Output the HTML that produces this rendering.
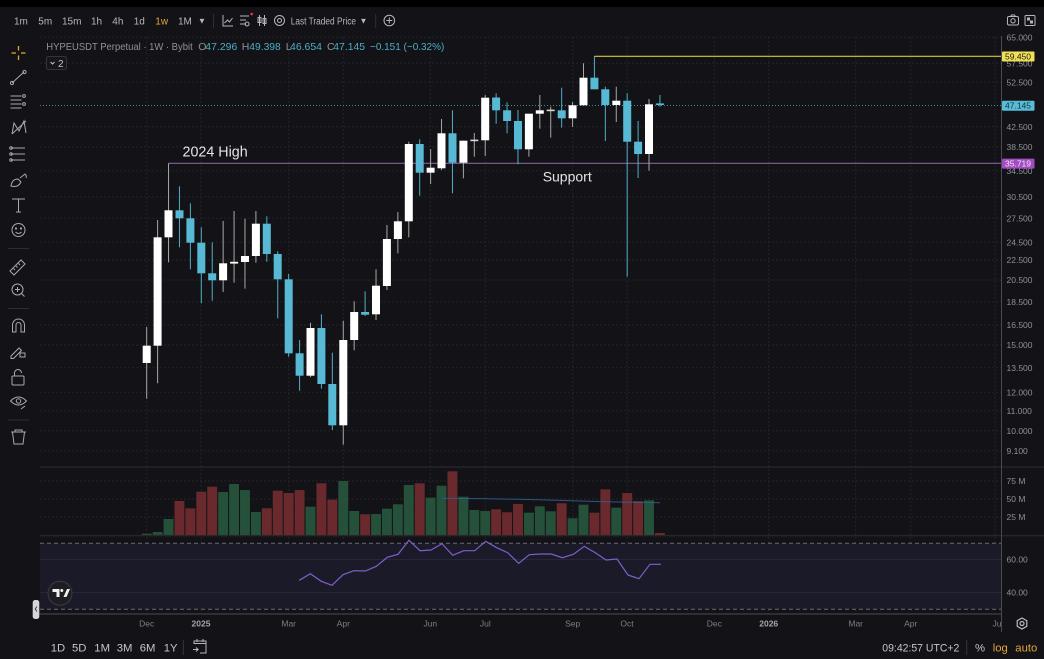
<!DOCTYPE html>
<html><head><meta charset="utf-8"><style>
html,body{margin:0;padding:0;background:#131317;}
svg{display:block;font-family:"Liberation Sans",sans-serif;}
</style></head><body>
<svg width="1044" height="659" viewBox="0 0 1044 659" xmlns="http://www.w3.org/2000/svg">
<rect x="0" y="0" width="1044" height="659" fill="#131317"/>
<rect x="0" y="0" width="1044" height="7" fill="#000"/>

<!-- grid vertical -->
<g stroke="#23232b" stroke-width="1" stroke-dasharray="2,2">
<line x1="146.7" y1="37" x2="146.7" y2="614"/><line x1="201" y1="37" x2="201" y2="614"/>
<line x1="288.7" y1="37" x2="288.7" y2="614"/><line x1="343.3" y1="37" x2="343.3" y2="614"/>
<line x1="430.3" y1="37" x2="430.3" y2="614"/><line x1="485.3" y1="37" x2="485.3" y2="614"/>
<line x1="572.7" y1="37" x2="572.7" y2="614"/><line x1="627" y1="37" x2="627" y2="614"/>
<line x1="714.3" y1="37" x2="714.3" y2="614"/><line x1="768.7" y1="37" x2="768.7" y2="614"/>
<line x1="855.7" y1="37" x2="855.7" y2="614"/><line x1="910.7" y1="37" x2="910.7" y2="614"/>
<line x1="995" y1="37" x2="995" y2="614"/>
</g>
<!-- grid horizontal main -->
<g stroke="#23232b" stroke-width="1" stroke-dasharray="2,2">
<line x1="40" y1="37.3" x2="1001" y2="37.3"/><line x1="40" y1="63.3" x2="1001" y2="63.3"/>
<line x1="40" y1="82.3" x2="1001" y2="82.3"/><line x1="40" y1="126.7" x2="1001" y2="126.7"/>
<line x1="40" y1="147" x2="1001" y2="147"/><line x1="40" y1="170.7" x2="1001" y2="170.7"/>
<line x1="40" y1="196.7" x2="1001" y2="196.7"/><line x1="40" y1="218.3" x2="1001" y2="218.3"/>
<line x1="40" y1="242.3" x2="1001" y2="242.3"/><line x1="40" y1="260" x2="1001" y2="260"/>
<line x1="40" y1="280" x2="1001" y2="280"/><line x1="40" y1="301.7" x2="1001" y2="301.7"/>
<line x1="40" y1="325" x2="1001" y2="325"/><line x1="40" y1="345" x2="1001" y2="345"/>
<line x1="40" y1="367.7" x2="1001" y2="367.7"/><line x1="40" y1="392.3" x2="1001" y2="392.3"/>
<line x1="40" y1="410.7" x2="1001" y2="410.7"/><line x1="40" y1="430.7" x2="1001" y2="430.7"/>
<line x1="40" y1="450.7" x2="1001" y2="450.7"/>
<line x1="40" y1="481" x2="1001" y2="481"/><line x1="40" y1="499" x2="1001" y2="499"/>
<line x1="40" y1="517" x2="1001" y2="517"/>
</g>

<!-- RSI panel -->
<rect x="40" y="543.3" width="961" height="66" fill="#1b1a29"/>
<line x1="40" y1="559.5" x2="1001" y2="559.5" stroke="#27263a"/>
<line x1="40" y1="592.5" x2="1001" y2="592.5" stroke="#27263a"/>
<line x1="40" y1="543.3" x2="1001" y2="543.3" stroke="#6a6a76" stroke-dasharray="4,3"/>
<line x1="40" y1="609.3" x2="1001" y2="609.3" stroke="#6a6a76" stroke-dasharray="4,3"/>
<polyline fill="none" stroke="#7e5fc9" stroke-width="1.2" points="299.3,580.3 310.3,573.7 321.3,581.3 332,585.3 343,574.7 354,570.7 365.3,571 376.3,566.3 387.3,557.3 398,554.3 409,540.3 420,550.7 431,550 442,543.7 452.7,555.3 463.7,550.7 474.7,550.7 485.7,541.3 496.7,547.7 507.7,552.7 518.7,563.3 529.3,554.7 540.3,554 551.3,554 562.3,557.7 573.3,554.3 584.3,546.3 595.3,552.7 606,560 617,559 628,575 639,578.7 650,564.3 661,564.3"/>

<!-- panel separators -->
<line x1="40" y1="467" x2="1044" y2="467" stroke="#2c2c34"/>
<line x1="40" y1="535.8" x2="1044" y2="535.8" stroke="#2c2c34"/>
<line x1="34" y1="614" x2="1001" y2="614" stroke="#4a4a52"/>
<line x1="1001.5" y1="36" x2="1001.5" y2="632" stroke="#4a4a52"/>

<!-- volume bars -->
<g>
<rect x="141.75" y="533.7" width="9.9" height="1.3" fill="#25503a"/>
<rect x="152.67" y="532" width="9.9" height="3" fill="#25503a"/>
<rect x="163.59" y="519" width="9.9" height="16" fill="#25503a"/>
<rect x="174.51" y="501" width="9.9" height="34" fill="#6a2a2d"/>
<rect x="185.43" y="508.3" width="9.9" height="26.7" fill="#6a2a2d"/>
<rect x="196.35" y="491.7" width="9.9" height="43.3" fill="#6a2a2d"/>
<rect x="207.27" y="486.7" width="9.9" height="48.3" fill="#6a2a2d"/>
<rect x="218.19" y="492" width="9.9" height="43" fill="#25503a"/>
<rect x="229.11" y="484" width="9.9" height="51" fill="#25503a"/>
<rect x="240.03" y="490" width="9.9" height="45" fill="#25503a"/>
<rect x="250.95" y="512" width="9.9" height="23" fill="#25503a"/>
<rect x="261.87" y="508.3" width="9.9" height="26.7" fill="#6a2a2d"/>
<rect x="272.79" y="490.7" width="9.9" height="44.3" fill="#6a2a2d"/>
<rect x="283.71" y="493" width="9.9" height="42" fill="#6a2a2d"/>
<rect x="294.63" y="490" width="9.9" height="45" fill="#6a2a2d"/>
<rect x="305.55" y="506.7" width="9.9" height="28.3" fill="#25503a"/>
<rect x="316.47" y="483.3" width="9.9" height="51.7" fill="#6a2a2d"/>
<rect x="327.39" y="499.7" width="9.9" height="35.3" fill="#6a2a2d"/>
<rect x="338.31" y="481" width="9.9" height="54" fill="#25503a"/>
<rect x="349.23" y="511" width="9.9" height="24" fill="#25503a"/>
<rect x="360.15" y="514.3" width="9.9" height="20.7" fill="#6a2a2d"/>
<rect x="371.07" y="514" width="9.9" height="21" fill="#25503a"/>
<rect x="381.99" y="508.7" width="9.9" height="26.3" fill="#25503a"/>
<rect x="392.91" y="504.3" width="9.9" height="30.7" fill="#25503a"/>
<rect x="403.83" y="485" width="9.9" height="50" fill="#25503a"/>
<rect x="414.75" y="483.3" width="9.9" height="51.7" fill="#6a2a2d"/>
<rect x="425.67" y="497.7" width="9.9" height="37.3" fill="#25503a"/>
<rect x="436.59" y="485.7" width="9.9" height="49.3" fill="#25503a"/>
<rect x="447.51" y="471.3" width="9.9" height="63.7" fill="#6a2a2d"/>
<rect x="458.43" y="496.7" width="9.9" height="38.3" fill="#25503a"/>
<rect x="469.35" y="510" width="9.9" height="25" fill="#25503a"/>
<rect x="480.27" y="511" width="9.9" height="24" fill="#25503a"/>
<rect x="491.19" y="509.3" width="9.9" height="25.7" fill="#6a2a2d"/>
<rect x="502.11" y="512.3" width="9.9" height="22.7" fill="#6a2a2d"/>
<rect x="513.03" y="504" width="9.9" height="31" fill="#6a2a2d"/>
<rect x="523.95" y="512.7" width="9.9" height="22.3" fill="#25503a"/>
<rect x="534.87" y="506.3" width="9.9" height="28.7" fill="#25503a"/>
<rect x="545.79" y="511.3" width="9.9" height="23.7" fill="#25503a"/>
<rect x="556.71" y="503.3" width="9.9" height="31.7" fill="#6a2a2d"/>
<rect x="567.63" y="518.3" width="9.9" height="16.7" fill="#25503a"/>
<rect x="578.55" y="504.7" width="9.9" height="30.3" fill="#25503a"/>
<rect x="589.47" y="512.7" width="9.9" height="22.3" fill="#6a2a2d"/>
<rect x="600.39" y="489.3" width="9.9" height="45.7" fill="#6a2a2d"/>
<rect x="611.31" y="507.7" width="9.9" height="27.3" fill="#25503a"/>
<rect x="622.23" y="493" width="9.9" height="42" fill="#6a2a2d"/>
<rect x="633.15" y="501" width="9.9" height="34" fill="#6a2a2d"/>
<rect x="644.07" y="500.3" width="9.9" height="34.7" fill="#25503a"/>
<rect x="654.99" y="533" width="9.9" height="2" fill="#6a2a2d"/>
</g>
<polyline fill="none" stroke="#2d5f8f" stroke-width="1" opacity="0.9" points="441.5,498.3 480,498.6 520,499.3 560,500.4 600,501.6 630,502.2 660,502.7"/>

<!-- horizontal levels -->
<line x1="40" y1="105.5" x2="1001" y2="105.5" stroke="#3d8c9c" stroke-width="1" stroke-dasharray="1,2"/>
<line x1="168.5" y1="163.3" x2="1001" y2="163.3" stroke="#87619b" stroke-width="1.2"/>
<line x1="594.4" y1="56.3" x2="1001" y2="56.3" stroke="#d6c63c" stroke-width="1.2"/>

<!-- candles wicks -->
<g stroke-width="1">
<line x1="146.7" y1="327" x2="146.7" y2="398.7" stroke="#a8a8a8"/>
<line x1="157.62" y1="220" x2="157.62" y2="383.3" stroke="#a8a8a8"/>
<line x1="168.54" y1="163.3" x2="168.54" y2="262.3" stroke="#a8a8a8"/>
<line x1="179.46" y1="186.3" x2="179.46" y2="247.3" stroke="#4fb0c8"/>
<line x1="190.38" y1="203.3" x2="190.38" y2="269.3" stroke="#4fb0c8"/>
<line x1="201.3" y1="227.3" x2="201.3" y2="303.3" stroke="#4fb0c8"/>
<line x1="212.22" y1="242.3" x2="212.22" y2="300.7" stroke="#4fb0c8"/>
<line x1="223.14" y1="221" x2="223.14" y2="292" stroke="#a8a8a8"/>
<line x1="234.06" y1="211" x2="234.06" y2="282.7" stroke="#a8a8a8"/>
<line x1="244.98" y1="218.7" x2="244.98" y2="288.7" stroke="#a8a8a8"/>
<line x1="255.9" y1="211" x2="255.9" y2="262.7" stroke="#a8a8a8"/>
<line x1="266.82" y1="216.3" x2="266.82" y2="261.7" stroke="#4fb0c8"/>
<line x1="277.74" y1="251.3" x2="277.74" y2="318.3" stroke="#4fb0c8"/>
<line x1="288.66" y1="274" x2="288.66" y2="356.7" stroke="#4fb0c8"/>
<line x1="299.58" y1="340" x2="299.58" y2="390.7" stroke="#4fb0c8"/>
<line x1="310.5" y1="322.7" x2="310.5" y2="377.3" stroke="#a8a8a8"/>
<line x1="321.42" y1="314.3" x2="321.42" y2="388.7" stroke="#4fb0c8"/>
<line x1="332.34" y1="352.7" x2="332.34" y2="430" stroke="#4fb0c8"/>
<line x1="343.26" y1="320.7" x2="343.26" y2="444.7" stroke="#a8a8a8"/>
<line x1="354.18" y1="301.3" x2="354.18" y2="350.3" stroke="#a8a8a8"/>
<line x1="365.1" y1="291.3" x2="365.1" y2="316" stroke="#4fb0c8"/>
<line x1="376.02" y1="269.3" x2="376.02" y2="320" stroke="#a8a8a8"/>
<line x1="386.94" y1="225" x2="386.94" y2="290" stroke="#a8a8a8"/>
<line x1="397.86" y1="212" x2="397.86" y2="253.3" stroke="#a8a8a8"/>
<line x1="408.78" y1="141.7" x2="408.78" y2="237.3" stroke="#a8a8a8"/>
<line x1="419.7" y1="139.3" x2="419.7" y2="195.7" stroke="#4fb0c8"/>
<line x1="430.62" y1="149" x2="430.62" y2="184" stroke="#a8a8a8"/>
<line x1="441.54" y1="119" x2="441.54" y2="170" stroke="#a8a8a8"/>
<line x1="452.46" y1="110.3" x2="452.46" y2="193.3" stroke="#4fb0c8"/>
<line x1="463.38" y1="140.7" x2="463.38" y2="178.3" stroke="#a8a8a8"/>
<line x1="474.3" y1="133" x2="474.3" y2="156.7" stroke="#a8a8a8"/>
<line x1="485.22" y1="95" x2="485.22" y2="156" stroke="#a8a8a8"/>
<line x1="496.14" y1="93.3" x2="496.14" y2="123.7" stroke="#4fb0c8"/>
<line x1="507.06" y1="102.3" x2="507.06" y2="133.3" stroke="#4fb0c8"/>
<line x1="517.98" y1="110" x2="517.98" y2="164.3" stroke="#4fb0c8"/>
<line x1="528.9" y1="113.7" x2="528.9" y2="156.7" stroke="#a8a8a8"/>
<line x1="539.82" y1="95" x2="539.82" y2="128.7" stroke="#a8a8a8"/>
<line x1="550.74" y1="106.7" x2="550.74" y2="137.7" stroke="#a8a8a8"/>
<line x1="561.66" y1="87.7" x2="561.66" y2="127.7" stroke="#4fb0c8"/>
<line x1="572.58" y1="102" x2="572.58" y2="127" stroke="#a8a8a8"/>
<line x1="583.5" y1="63.3" x2="583.5" y2="105.3" stroke="#a8a8a8"/>
<line x1="594.42" y1="56" x2="594.42" y2="89.3" stroke="#4fb0c8"/>
<line x1="605.34" y1="86.7" x2="605.34" y2="141" stroke="#4fb0c8"/>
<line x1="616.26" y1="86.7" x2="616.26" y2="122" stroke="#a8a8a8"/>
<line x1="627.18" y1="93.3" x2="627.18" y2="276.7" stroke="#4fb0c8"/>
<line x1="638.1" y1="121" x2="638.1" y2="178" stroke="#4fb0c8"/>
<line x1="649.02" y1="99" x2="649.02" y2="170.7" stroke="#a8a8a8"/>
<line x1="659.94" y1="95" x2="659.94" y2="106.7" stroke="#4fb0c8"/>
</g>
<!-- candle bodies -->
<g>
<rect x="142.7" y="345.7" width="8" height="17.3" fill="#ffffff"/>
<rect x="153.6" y="237.3" width="8" height="108.4" fill="#ffffff"/>
<rect x="164.5" y="210.3" width="8" height="27" fill="#ffffff"/>
<rect x="175.5" y="210.3" width="8" height="8" fill="#57b9d4"/>
<rect x="186.4" y="218.3" width="8" height="24.4" fill="#57b9d4"/>
<rect x="197.3" y="242.7" width="8" height="30.6" fill="#57b9d4"/>
<rect x="208.2" y="273.3" width="8" height="7" fill="#57b9d4"/>
<rect x="219.1" y="263.3" width="8" height="17" fill="#ffffff"/>
<rect x="230.1" y="261.8" width="8" height="1.8" fill="#ffffff"/>
<rect x="241" y="256" width="8" height="6" fill="#ffffff"/>
<rect x="251.9" y="223.7" width="8" height="32.3" fill="#ffffff"/>
<rect x="262.8" y="223.7" width="8" height="30.3" fill="#57b9d4"/>
<rect x="273.7" y="254" width="8" height="25.3" fill="#57b9d4"/>
<rect x="284.7" y="279.3" width="8" height="74" fill="#57b9d4"/>
<rect x="295.6" y="353.3" width="8" height="22.4" fill="#57b9d4"/>
<rect x="306.5" y="328" width="8" height="47.7" fill="#ffffff"/>
<rect x="317.4" y="328" width="8" height="56" fill="#57b9d4"/>
<rect x="328.3" y="384" width="8" height="41.3" fill="#57b9d4"/>
<rect x="339.3" y="340" width="8" height="85.3" fill="#ffffff"/>
<rect x="350.2" y="312" width="8" height="28" fill="#ffffff"/>
<rect x="361.1" y="312" width="8" height="2.7" fill="#57b9d4"/>
<rect x="372" y="285.7" width="8" height="28.6" fill="#ffffff"/>
<rect x="382.9" y="239" width="8" height="47" fill="#ffffff"/>
<rect x="393.9" y="221.3" width="8" height="17.7" fill="#ffffff"/>
<rect x="404.8" y="144" width="8" height="77.3" fill="#ffffff"/>
<rect x="415.7" y="144" width="8" height="28.7" fill="#57b9d4"/>
<rect x="426.6" y="167.7" width="8" height="5" fill="#ffffff"/>
<rect x="437.5" y="133.3" width="8" height="35" fill="#ffffff"/>
<rect x="448.5" y="133.3" width="8" height="29.4" fill="#57b9d4"/>
<rect x="459.4" y="140.7" width="8" height="22" fill="#ffffff"/>
<rect x="470.3" y="139.6" width="8" height="1.6" fill="#d8d8d8"/>
<rect x="481.2" y="97.7" width="8" height="42.6" fill="#ffffff"/>
<rect x="492.1" y="97.5" width="8" height="12.8" fill="#57b9d4"/>
<rect x="503.1" y="110.3" width="8" height="10.7" fill="#57b9d4"/>
<rect x="514" y="121" width="8" height="28.3" fill="#57b9d4"/>
<rect x="524.9" y="113.7" width="8" height="35.6" fill="#ffffff"/>
<rect x="535.8" y="110.3" width="8" height="3.4" fill="#ffffff"/>
<rect x="546.7" y="109.6" width="8" height="1.6" fill="#d8d8d8"/>
<rect x="557.7" y="110.3" width="8" height="8" fill="#57b9d4"/>
<rect x="568.6" y="105.3" width="8" height="13" fill="#ffffff"/>
<rect x="579.5" y="77.7" width="8" height="27.6" fill="#ffffff"/>
<rect x="590.4" y="77.7" width="8" height="11.6" fill="#57b9d4"/>
<rect x="601.3" y="89.3" width="8" height="15.7" fill="#57b9d4"/>
<rect x="612.3" y="100.7" width="8" height="4.3" fill="#ffffff"/>
<rect x="623.2" y="100.7" width="8" height="41" fill="#57b9d4"/>
<rect x="634.1" y="141.7" width="8" height="12.3" fill="#57b9d4"/>
<rect x="645" y="104.3" width="8" height="49.7" fill="#ffffff"/>
<rect x="655.9" y="103.4" width="8" height="1.6" fill="#57b9d4"/>
</g>

<!-- annotations -->
<text x="182.5" y="156.5" font-size="14.3" fill="#e4e4e6">2024 High</text>
<text x="542.7" y="181.5" font-size="14" fill="#e4e4e6">Support</text>

<!-- price axis labels -->
<g font-size="8.5" fill="#8d9099">
<text x="1006.5" y="40.5">65.000</text>
<text x="1006.5" y="66.5">57.500</text>
<text x="1006.5" y="85.5">52.500</text>
<text x="1006.5" y="129.9">42.500</text>
<text x="1006.5" y="150.2">38.500</text>
<text x="1006.5" y="173.9">34.500</text>
<text x="1006.5" y="199.9">30.500</text>
<text x="1006.5" y="221.5">27.500</text>
<text x="1006.5" y="245.5">24.500</text>
<text x="1006.5" y="263.2">22.500</text>
<text x="1006.5" y="283.2">20.500</text>
<text x="1006.5" y="304.9">18.500</text>
<text x="1006.5" y="328.2">16.500</text>
<text x="1006.5" y="348.2">15.000</text>
<text x="1006.5" y="370.9">13.500</text>
<text x="1006.5" y="395.5">12.000</text>
<text x="1006.5" y="413.9">11.000</text>
<text x="1006.5" y="433.9">10.000</text>
<text x="1006.5" y="453.9">9.100</text>
<text x="1006.5" y="484.2">75 M</text>
<text x="1006.5" y="502.2">50 M</text>
<text x="1006.5" y="520.2">25 M</text>
<text x="1006.5" y="562.7">60.00</text>
<text x="1006.5" y="595.7">40.00</text>
</g>
<!-- price labels -->
<rect x="1002" y="51.5" width="32.5" height="10" rx="1" fill="#efe057"/>
<text x="1005" y="59.5" font-size="8.5" fill="#1b1b10">59.450</text>
<rect x="1002" y="100.7" width="32.5" height="10" rx="1" fill="#58bcd6"/>
<text x="1005" y="108.7" font-size="8.5" fill="#0f3440">47.145</text>
<rect x="1002" y="158.6" width="32.5" height="10" rx="1" fill="#a34bc0"/>
<text x="1005" y="166.6" font-size="8.5" fill="#f2e6f6">35.719</text>

<!-- time axis -->
<g font-size="8.5" fill="#7c7f88" text-anchor="middle">
<text x="146.7" y="626.5">Dec</text>
<text x="201" y="626.5" font-weight="bold" fill="#a4a7ae">2025</text>
<text x="288.7" y="626.5">Mar</text>
<text x="343.3" y="626.5">Apr</text>
<text x="430.3" y="626.5">Jun</text>
<text x="485.3" y="626.5">Jul</text>
<text x="572.7" y="626.5">Sep</text>
<text x="627" y="626.5">Oct</text>
<text x="714.3" y="626.5">Dec</text>
<text x="768.7" y="626.5" font-weight="bold" fill="#a4a7ae">2026</text>
<text x="855.7" y="626.5">Mar</text>
<text x="910.7" y="626.5">Apr</text>
<text x="997" y="626.5">Ju</text>
</g>
<!-- gear -->
<g transform="translate(1022,623.5)" fill="none" stroke="#b8bbc2" stroke-width="1.2">
<polygon points="0,-5.5 4.8,-2.75 4.8,2.75 0,5.5 -4.8,2.75 -4.8,-2.75"/>
<circle cx="0" cy="0" r="2"/>
</g>

<!-- TV logo -->
<circle cx="60" cy="593.3" r="12" fill="#1d1d22" stroke="#3b3b44" stroke-width="1"/>
<path d="M52.5,589 h7 v8 h-3 v-5 h-4 z" fill="#f0f0f0"/>
<circle cx="61.8" cy="590.5" r="1.5" fill="#f0f0f0"/>
<path d="M63.5,597 l3.5,-8 h3 l-3.5,8 z" fill="#f0f0f0"/>
<!-- handle -->
<rect x="32.7" y="600" width="6.6" height="19" rx="2.5" fill="#d6d6da"/>
<path d="M37,606.5 l-1.8,2.5 l1.8,2.5" fill="none" stroke="#333" stroke-width="0.9"/>

<!-- legend -->
<text x="46.3" y="50" font-size="10.5" fill="#8f929b" textLength="146.4" lengthAdjust="spacingAndGlyphs">HYPEUSDT Perpetual · 1W · Bybit</text>
<g font-size="10.5">
<text x="198.3" y="50" fill="#8f929b">O</text>
<text x="205.3" y="50" fill="#4aaec4" textLength="32" lengthAdjust="spacingAndGlyphs">47.296</text>
<text x="241.7" y="50" fill="#8f929b">H</text>
<text x="249.3" y="50" fill="#4aaec4" textLength="31.4" lengthAdjust="spacingAndGlyphs">49.398</text>
<text x="285.7" y="50" fill="#8f929b">L</text>
<text x="290" y="50" fill="#4aaec4" textLength="32" lengthAdjust="spacingAndGlyphs">46.654</text>
<text x="327" y="50" fill="#8f929b">C</text>
<text x="333.3" y="50" fill="#4aaec4" textLength="31.7" lengthAdjust="spacingAndGlyphs">47.145</text>
<text x="370" y="50" fill="#4aaec4" textLength="74.3" lengthAdjust="spacingAndGlyphs">−0.151 (−0.32%)</text>
</g>
<rect x="46.5" y="56.5" width="20" height="13" rx="2" fill="#16161b" stroke="#34343c"/>
<path d="M50.5,62 l2,2 l2,-2" fill="none" stroke="#c0c2c8" stroke-width="1"/>
<text x="58" y="67" font-size="10" fill="#c0c2c8">2</text>

<!-- top toolbar -->
<g font-size="10" fill="#b4b7bf">
<text x="14" y="24.5">1m</text>
<text x="38.3" y="24.5">5m</text>
<text x="62" y="24.5">15m</text>
<text x="91" y="24.5">1h</text>
<text x="112.3" y="24.5">4h</text>
<text x="133.7" y="24.5">1d</text>
<text x="155.3" y="24.5" fill="#e2a63a">1w</text>
<text x="178" y="24.5">1M</text>
<text x="198" y="23.5" font-size="8">▼</text>
<text x="290.7" y="24.5" textLength="65.3" lengthAdjust="spacingAndGlyphs">Last Traded Price</text>
<text x="359.5" y="23.5" font-size="8">▼</text>
</g>
<line x1="213.5" y1="14" x2="213.5" y2="28" stroke="#2e2e36"/>
<line x1="375.7" y1="14" x2="375.7" y2="28" stroke="#2e2e36"/>
<g fill="none" stroke="#b4b7bf" stroke-width="1">
<path d="M223,15 v11 h10 M224.5,23 l3,-3 l2,2 l3,-4"/>
<path d="M240,16 h9 M240,20 h6 M240,24 h6 M247,22 a2,2 0 1 0 0.1,0"/>
<path d="M259.5,15 v11 M264.5,15 v11"/><rect x="258" y="17.5" width="3" height="5"/><rect x="263" y="18.5" width="3" height="5"/>
<circle cx="279.5" cy="20.5" r="5"/><circle cx="279.5" cy="20.5" r="2"/>
<circle cx="389.3" cy="20.5" r="5.3"/><path d="M386.3,20.5 h6 M389.3,17.5 v6"/>
</g>
<circle cx="251.7" cy="14" r="1.3" fill="#f23645"/>
<!-- top right icons -->
<g fill="none" stroke="#b4b7bf" stroke-width="1">
<rect x="1007.5" y="16.5" width="11" height="8.5" rx="1.5"/><circle cx="1013" cy="20.8" r="2.2"/><path d="M1010.5,16.5 l1,-1.5 h3 l1,1.5"/>
<rect x="1025" y="15.5" width="10" height="10" rx="1"/>
</g>
<rect x="1027" y="17.5" width="3" height="3" fill="#b4b7bf"/><rect x="1030" y="20.5" width="3" height="3" fill="#b4b7bf"/>

<!-- left toolbar -->
<g fill="none" stroke="#a6a9b0" stroke-width="1">
<path d="M18.5,46 v4.5 M18.5,55.5 v4.5 M11.5,53 h4.5 M21,53 h4.5" stroke="#e0a43a" stroke-width="1.3"/>
<path d="M12,83 l12,-11"/><circle cx="12" cy="83" r="1.6"/><circle cx="24.5" cy="72" r="1.6"/>
<path d="M10.5,96 h11 M10.5,100 h11 M10.5,104 h11 M10.5,108 h11"/><circle cx="24" cy="96" r="1.4"/><circle cx="24" cy="104" r="1.4"/>
<path d="M12,134 l2,-11 l5,8 l5,-10 l2,12 M12,134 l14,-13"/>
<path d="M11,148 h14 M11,154 h14 M11,160 h14"/><circle cx="11" cy="148" r="1.3"/><circle cx="11" cy="154" r="1.3"/><circle cx="11" cy="160" r="1.3"/>
<path d="M11,186 q1,-7 7,-7 l3,3 q-3,6 -10,4 z M20,178 l5,-4 q2,2 1,4"/>
<path d="M12,199 h13 M18.5,199 v13 M16,212 h5"/>
<circle cx="18.5" cy="230" r="6.5"/><circle cx="16" cy="228.5" r="0.6"/><circle cx="21" cy="228.5" r="0.6"/><path d="M15.5,232 q3,3 6,0"/>
<path d="M10,271 l11,-11 l4,4 l-11,11 z M13.5,268.5 l1.5,1.5 M16,266 l1.5,1.5 M18.5,263.5 l1.5,1.5"/>
<circle cx="17.5" cy="289.5" r="5.5"/><path d="M15,289.5 h5 M17.5,287 v5 M21.5,293.5 l3,3"/>
<path d="M12.5,332 v-7 a6,6 0 0 1 12,0 v7 h-3.5 v-7 a2.5,2.5 0 0 0 -5,0 v7 z"/>
<path d="M11,356 l8,-8 l2.5,2.5 l-8,8 h-2.5 z"/><rect x="20" y="353" width="5" height="4"/>
<rect x="12" y="376" width="12" height="9" rx="1"/><path d="M14.5,376 v-3 a3.5,3.5 0 0 1 7,0"/>
<path d="M10.5,401 q8,-8 16,0 q-8,8 -16,0 z"/><circle cx="18.5" cy="401" r="2.2"/><path d="M21,409 l4,-3"/>
<path d="M11,432 h15 M15,432 v-2 h7 v2 M12.5,432 l1.5,12 h9 l1.5,-12"/>
</g>
<g stroke="#2c2c34"><line x1="8" y1="248.5" x2="29" y2="248.5"/><line x1="8" y1="308.5" x2="29" y2="308.5"/><line x1="8" y1="420" x2="29" y2="420"/></g>

<!-- bottom bar -->
<g font-size="11.3" fill="#c4c6cc">
<text x="50.7" y="651.5">1D</text>
<text x="72" y="651.5">5D</text>
<text x="94.3" y="651.5">1M</text>
<text x="116.7" y="651.5">3M</text>
<text x="139.7" y="651.5">6M</text>
<text x="163.7" y="651.5">1Y</text>
<text x="882.3" y="651.5" textLength="77" lengthAdjust="spacingAndGlyphs">09:42:57 UTC+2</text>
<text x="975" y="651.5">%</text>
<text x="992.7" y="651.5" fill="#e2a63a">log</text>
<text x="1015.3" y="651.5" fill="#e2a63a">auto</text>
</g>
<line x1="183.3" y1="640" x2="183.3" y2="655" stroke="#34343c"/>
<line x1="966.7" y1="640" x2="966.7" y2="655" stroke="#34343c"/>
<g fill="none" stroke="#b4b7bf" stroke-width="1">
<path d="M194,644 v-3 h12 v12 h-6 M194,643.5 h12 M197,639 v3 M203,639 v3 M193,649.5 h5 l-2,-2 M198,649.5 l-2,2"/>
</g>
</svg>
</body></html>
